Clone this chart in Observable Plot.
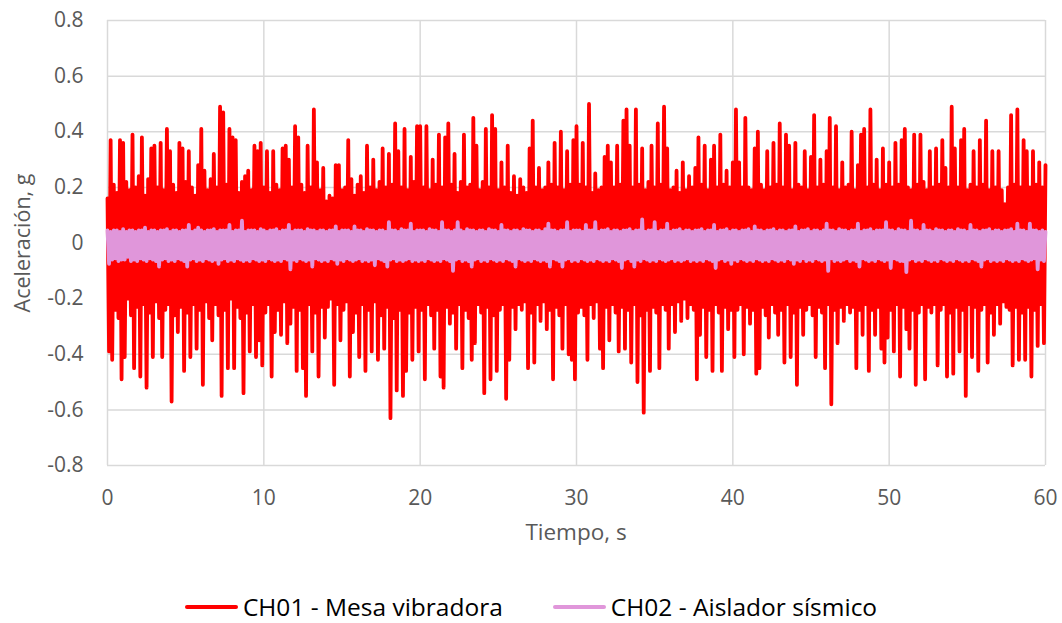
<!DOCTYPE html>
<html>
<head>
<meta charset="utf-8">
<script src="https://cdn.jsdelivr.net/npm/d3@7"></script>
<script src="https://cdn.jsdelivr.net/npm/@observablehq/plot@0.6"></script>
<style>
  html, body { margin: 0; padding: 0; background: #fff; }
  #wrap { position: relative; width: 1062px; height: 623px; font-family: "Open Sans", "Liberation Sans", sans-serif; }
  #chart { position: absolute; left: 0; top: 0; }
  .ytitle { position: absolute; left: 22px; top: 243px; transform: translate(-50%, -50%) rotate(-90deg); font-size: 21.5px; line-height: 22px; color: #595959; white-space: nowrap; }
  .xtitle { position: absolute; left: 576px; top: 521px; transform: translateX(-50%); font-size: 22.5px; line-height: 22px; color: #595959; white-space: nowrap; }
  .legend { position: absolute; left: 0; width: 1062px; top: 591px; display: flex; justify-content: center; align-items: center; gap: 50px; font-size: 24.5px; line-height: 32px; color: #000; }
  .item { display: flex; align-items: center; gap: 5px; }
  .sw { width: 53px; height: 4px; border-radius: 2px; }
</style>
</head>
<body>
<div id="wrap">
  <div id="chart"></div>
  <div class="ytitle">Aceleración, g</div>
  <div class="xtitle">Tiempo, s</div>
  <div class="legend" id="legend"></div>
</div>
<script>
// ---- data ----
const sampleStep = 0.1; // s between stored samples
const seriesNames = ["CH01 - Mesa vibradora", "CH02 - Aislador sísmico"];
const seriesColors = ["#ff0000", "#e096da"];
const xTicks = [0, 10, 20, 30, 40, 50, 60];
const yTicks = [-0.8, -0.6, -0.4, -0.2, 0, 0.2, 0.4, 0.6, 0.8];

// CH01 - Mesa vibradora (g)
const ch01Values = [
.16,-.39,.37,-.42,.21,-.24,.18,-.27,.37,-.49,.36,-.41,.22,-.2,.19,-.26,.39,-.45,.2,-.23,
.24,-.48,.38,-.22,.17,-.52,.23,-.25,.34,-.41,.35,-.21,.2,-.27,.36,-.41,.19,-.24,.41,-.22,
.33,-.57,.21,-.26,.18,-.32,.36,-.23,.34,-.46,.22,-.25,.33,-.41,.2,-.22,.17,-.38,.28,-.24,
.41,-.51,.26,-.21,.19,-.27,.23,-.35,.32,-.22,.2,-.26,.49,-.55,.47,-.24,.21,-.45,.41,-.2,
.38,-.45,.37,-.23,.18,-.27,.22,-.54,.24,-.25,.26,-.39,.19,-.22,.35,-.41,.33,-.35,.36,-.44,
.2,-.25,.33,-.22,.18,-.48,.33,-.32,.21,-.24,.19,-.33,.34,-.21,.35,-.36,.3,-.29,.2,-.23,
.42,-.46,.38,-.24,.21,-.45,.18,-.55,.35,-.22,.2,-.39,.48,-.25,.29,-.48,.19,-.23,.27,-.34,
.15,-.23,.17,-.2,.16,-.51,.28,-.22,.28,-.35,.19,-.24,.2,-.21,.37,-.48,.23,-.32,.17,-.25,
.21,-.41,.24,-.22,.18,-.46,.35,-.24,.2,-.39,.3,-.21,.19,-.42,.22,-.26,.34,-.38,.2,-.23,
.32,-.63,.21,-.27,.43,-.53,.33,-.24,.2,-.55,.41,-.46,.19,-.25,.31,-.42,.22,-.23,.42,-.39,
.42,-.24,.2,-.49,.42,-.22,.19,-.26,.3,-.38,.21,-.24,.39,-.48,.2,-.52,.38,-.23,.43,-.29,
.21,-.25,.32,-.38,.18,-.22,.22,-.45,.39,-.24,.2,-.27,.21,-.42,.45,-.36,.35,-.22,.19,-.25,
.22,-.54,.41,-.23,.2,-.49,.46,-.26,.41,-.46,.19,-.24,.29,-.22,.2,-.56,.35,-.42,.18,-.23,
.24,-.31,.17,-.22,.23,-.24,.2,-.21,.18,-.45,.34,-.25,.44,-.43,.2,-.22,.27,-.28,.19,-.21,
.2,-.31,.29,-.24,.21,-.49,.36,-.23,.2,-.26,.4,-.38,.19,-.22,.33,-.4,.21,-.42,.37,-.49,
.42,-.25,.21,-.23,.36,-.26,.2,-.42,.5,-.22,.18,-.27,.25,-.21,.19,-.38,.2,-.45,.31,-.23,
.35,-.35,.29,-.22,.2,-.25,.35,-.39,.21,-.23,.44,-.38,.48,-.24,.35,-.43,.2,-.22,.48,-.5,
.21,-.26,.34,-.61,.19,-.24,.22,-.46,.35,-.23,.2,-.25,.43,-.45,.21,-.22,.49,-.24,.34,-.38,
.19,-.22,.2,-.32,.26,-.21,.18,-.28,.29,-.2,.19,-.27,.24,-.22,.2,-.24,.27,-.49,.38,-.33,
.21,-.23,.35,-.41,.19,-.24,.3,-.46,.35,-.22,.2,-.25,.39,-.46,.21,-.23,.26,-.31,.2,-.24,
.29,-.41,.48,-.24,.29,-.22,.2,-.4,.45,-.23,.2,-.29,.19,-.24,.34,-.47,.4,-.45,.21,-.23,
.19,-.26,.33,-.34,.2,-.22,.36,-.25,.21,-.33,.43,-.24,.2,-.43,.39,-.22,.35,-.41,.19,-.25,
.36,-.51,.21,-.23,.2,-.33,.33,-.24,.19,-.22,.31,-.26,.46,-.41,.2,-.23,.3,-.25,.21,-.45,
.33,-.22,.45,-.58,.2,-.24,.42,-.36,.19,-.23,.29,-.28,.2,-.22,.21,-.25,.4,-.23,.19,-.45,
.28,-.24,.39,-.33,.41,-.22,.2,-.46,.48,-.24,.21,-.33,.3,-.23,.19,-.38,.34,-.43,.21,-.34,
.29,-.24,.2,-.39,.36,-.22,.21,-.48,.37,-.23,.41,-.31,.2,-.38,.19,-.24,.39,-.51,.21,-.25,
.39,-.22,.22,-.49,.19,-.23,.33,-.25,.2,-.22,.34,-.44,.21,-.24,.37,-.22,.27,-.48,.2,-.25,
.49,-.47,.34,-.23,.2,-.39,.37,-.24,.41,-.55,.19,-.22,.21,-.41,.33,-.23,.2,-.46,.37,-.24,
.21,-.22,.44,-.43,.19,-.25,.33,-.33,.2,-.22,.33,-.29,.19,-.21,.14,-.23,.2,-.24,.46,-.44,
.21,-.23,.48,-.42,.2,-.25,.37,-.42,.33,-.23,.2,-.48,.33,-.24,.21,-.37,.29,-.22,.2,-.36,
.28
];

// CH02 - Aislador sísmico (g)
const ch02Values = [
.045,-.075,.04,-.06,.045,-.055,.045,-.065,.04,-.06,.05,-.06,.04,-.05,.045,-.065,.045,-.06,.04,-.065,
.045,-.055,.045,-.06,.055,-.065,.04,-.055,.045,-.06,.045,-.065,.04,-.085,.045,-.06,.045,-.055,.05,-.065,
.04,-.06,.045,-.065,.045,-.055,.04,-.06,.045,-.065,.045,-.085,.065,-.06,.04,-.055,.045,-.065,.055,-.06,
.045,-.065,.04,-.055,.045,-.06,.045,-.065,.05,-.06,.04,-.075,.045,-.06,.045,-.055,.045,-.065,.065,-.06,
.04,-.065,.045,-.055,.045,-.06,.08,-.065,.04,-.06,.045,-.065,.045,-.055,.045,-.06,.04,-.065,.05,-.06,
.045,-.065,.04,-.055,.045,-.06,.045,-.065,.05,-.06,.04,-.065,.045,-.055,.045,-.06,.065,-.095,.04,-.06,
.045,-.065,.045,-.055,.045,-.06,.04,-.065,.05,-.06,.045,-.085,.045,-.055,.04,-.06,.045,-.065,.045,-.06,
.04,-.065,.045,-.055,.045,-.06,.06,-.075,.04,-.06,.045,-.065,.045,-.055,.045,-.06,.04,-.065,.06,-.06,
.045,-.055,.045,-.065,.04,-.06,.05,-.065,.045,-.06,.045,-.08,.04,-.055,.045,-.06,.045,-.065,.04,-.085,
.075,-.06,.045,-.055,.045,-.065,.04,-.06,.05,-.065,.045,-.06,.045,-.055,.07,-.065,.04,-.06,.045,-.065,
.045,-.06,.045,-.065,.04,-.055,.05,-.06,.045,-.065,.045,-.06,.04,-.065,.075,-.055,.045,-.06,.045,-.065,
.04,-.1,.045,-.06,.075,-.055,.045,-.065,.04,-.06,.05,-.065,.045,-.085,.045,-.06,.04,-.055,.045,-.065,
.045,-.06,.04,-.065,.05,-.055,.045,-.06,.045,-.065,.04,-.06,.065,-.065,.045,-.055,.045,-.06,.04,-.065,
.045,-.085,.045,-.055,.04,-.06,.05,-.065,.045,-.06,.045,-.065,.04,-.055,.045,-.06,.045,-.065,.04,-.06,
.05,-.065,.07,-.085,.045,-.055,.045,-.06,.04,-.065,.045,-.085,.045,-.06,.075,-.055,.04,-.065,.045,-.06,
.045,-.065,.045,-.055,.04,-.06,.065,-.065,.045,-.06,.045,-.065,.075,-.055,.04,-.06,.045,-.065,.045,-.06,
.05,-.065,.04,-.055,.045,-.06,.045,-.065,.04,-.09,.045,-.06,.045,-.055,.05,-.065,.04,-.085,.045,-.06,
.045,-.065,.085,-.055,.04,-.06,.045,-.065,.045,-.06,.075,-.065,.04,-.055,.045,-.06,.045,-.065,.07,-.06,
.04,-.055,.045,-.065,.045,-.06,.05,-.065,.04,-.06,.045,-.055,.045,-.065,.04,-.06,.045,-.065,.045,-.06,
.05,-.065,.04,-.055,.045,-.06,.045,-.065,.065,-.09,.04,-.06,.045,-.055,.045,-.065,.05,-.06,.04,-.075,
.045,-.06,.045,-.065,.04,-.055,.045,-.06,.045,-.065,.05,-.06,.04,-.065,.06,-.055,.045,-.06,.045,-.065,
.04,-.06,.045,-.065,.045,-.055,.05,-.06,.04,-.065,.045,-.06,.045,-.065,.04,-.055,.045,-.06,.045,-.075,
.06,-.06,.04,-.065,.045,-.055,.045,-.065,.05,-.06,.04,-.065,.045,-.055,.045,-.06,.04,-.065,.045,-.06,
.07,-.1,.045,-.055,.045,-.065,.04,-.06,.05,-.065,.045,-.06,.045,-.055,.04,-.065,.045,-.06,.045,-.065,
.07,-.085,.04,-.055,.045,-.06,.045,-.065,.05,-.06,.04,-.065,.045,-.055,.045,-.06,.045,-.065,.075,-.06,
.045,-.09,.045,-.055,.04,-.06,.05,-.065,.045,-.065,.045,-.105,.04,-.06,.08,-.055,.045,-.065,.045,-.06,
.04,-.065,.065,-.055,.045,-.06,.045,-.065,.04,-.06,.05,-.065,.045,-.055,.045,-.06,.04,-.065,.045,-.06,
.045,-.065,.04,-.055,.05,-.06,.045,-.065,.045,-.06,.04,-.065,.065,-.055,.045,-.06,.045,-.065,.04,-.085,
.045,-.06,.045,-.055,.05,-.065,.04,-.06,.045,-.065,.045,-.06,.04,-.065,.045,-.055,.045,-.06,.05,-.065,
.04,-.06,.07,-.065,.045,-.055,.045,-.06,.04,-.065,.07,-.06,.045,-.055,.045,-.095,.04,-.06,.045,-.065,
.04
];

// ---- build tables ----
const ch01 = ch01Values.map((v, i) => ({t: i * sampleStep, v}));
const ch02 = ch02Values.map((v, i) => ({t: i * sampleStep, v}));

const chart = Plot.plot({
  width: 1062,
  height: 560,
  marginTop: 20,
  marginBottom: 95,
  marginLeft: 107,
  marginRight: 17,
  style: {fontFamily: "'Open Sans', 'Liberation Sans', sans-serif", fontSize: "21px", color: "#595959", background: "#fff"},
  x: {domain: [0, 60], ticks: xTicks, tickSize: 0, tickPadding: 25, label: null, tickFormat: d => String(d)},
  y: {domain: [-0.8, 0.8], ticks: yTicks, tickSize: 0, tickPadding: 24, label: null, tickFormat: d => String(+d.toFixed(1))},
  marks: [
    Plot.ruleX(xTicks, {x: d => d, stroke: "#d9d9d9", strokeWidth: 1.5}),
    Plot.ruleY(yTicks, {y: d => d, stroke: "#d9d9d9", strokeWidth: 1.5}),
    Plot.line(ch01, {x: "t", y: "v", stroke: seriesColors[0], strokeWidth: 3.8, strokeLinejoin: "round", strokeLinecap: "round"}),
    Plot.line(ch02, {x: "t", y: "v", stroke: seriesColors[1], strokeWidth: 3.8, strokeLinejoin: "round", strokeLinecap: "round"})
  ]
});
document.getElementById("chart").appendChild(chart);

const legend = document.getElementById("legend");
seriesNames.forEach((name, i) => {
  const item = document.createElement("div");
  item.className = "item";
  const sw = document.createElement("span");
  sw.className = "sw";
  sw.style.background = seriesColors[i];
  const label = document.createElement("span");
  label.textContent = name;
  item.appendChild(sw);
  item.appendChild(label);
  legend.appendChild(item);
});
</script>
</body>
</html>
